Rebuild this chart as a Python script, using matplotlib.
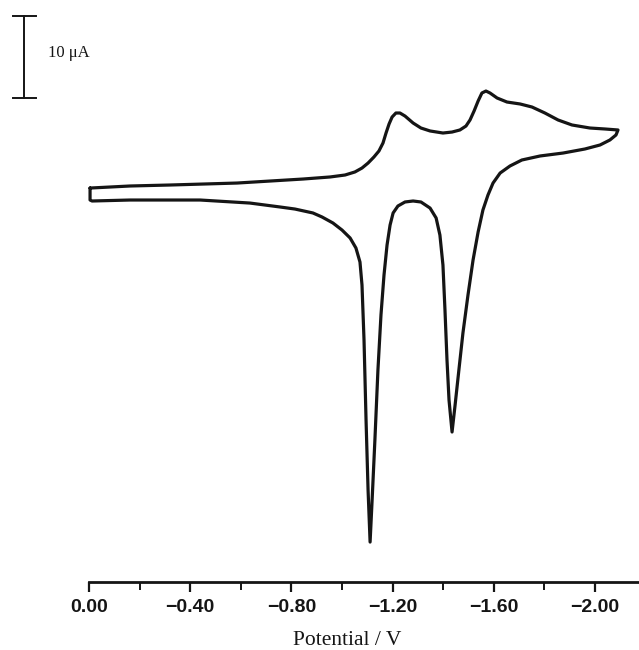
import matplotlib

matplotlib.use("Agg")

import matplotlib.pyplot as plt
from matplotlib.ticker import FixedLocator, FixedFormatter

INK = "#151515"

# forward scan 0 -> -2.09 V (reduction peaks plotted up), current in uA
forward_potential = [
    -0.004, -0.162, -0.320, -0.585, -0.846, -0.953, -1.012, -1.051, -1.079, -1.103,
    -1.126, -1.146, -1.162, -1.174, -1.186, -1.198, -1.213, -1.229, -1.249, -1.281,
    -1.312, -1.348, -1.399, -1.435, -1.466, -1.490, -1.506, -1.522, -1.538, -1.553,
    -1.569, -1.585, -1.613, -1.652, -1.704, -1.751, -1.802, -1.854, -1.909, -1.980,
    -2.040, -2.091,
]
forward_current = [
    0.24, 0.49, 0.61, 0.85, 1.34, 1.59, 1.83, 2.20, 2.68, 3.29,
    4.02, 4.76, 5.73, 6.95, 8.05, 8.90, 9.39, 9.39, 9.02, 8.17,
    7.56, 7.20, 6.95, 7.07, 7.32, 7.80, 8.54, 9.63, 10.85, 11.83,
    12.07, 11.83, 11.22, 10.73, 10.49, 10.12, 9.39, 8.54, 7.93, 7.56,
    7.44, 7.32,
]

# reverse scan back to 0 V with the two stripping peaks
reverse_potential = [
    -2.083, -2.059, -2.020, -1.960, -1.874, -1.783, -1.711, -1.664, -1.625, -1.597,
    -1.577, -1.557, -1.538, -1.518, -1.498, -1.478, -1.462, -1.447, -1.435, -1.423,
    -1.415, -1.407, -1.399, -1.387, -1.372, -1.348, -1.312, -1.281, -1.249, -1.221,
    -1.202, -1.190, -1.178, -1.166, -1.154, -1.142, -1.130, -1.119, -1.111, -1.103,
    -1.095, -1.087, -1.079, -1.071, -1.055, -1.032, -1.000, -0.964, -0.921, -0.885,
    -0.814, -0.755, -0.636, -0.439, -0.162, -0.012, -0.004, -0.004,
]
reverse_current = [
    6.71, 6.10, 5.49, 5.00, 4.51, 4.15, 3.66, 2.93, 2.07, 0.85,
    -0.61, -2.44, -5.12, -8.54, -12.80, -17.44, -21.95, -26.22, -29.51, -25.61,
    -20.73, -14.63, -9.15, -5.49, -3.41, -2.20, -1.46, -1.34, -1.46, -1.95,
    -2.80, -4.27, -6.71, -10.37, -15.24, -21.95, -30.49, -37.80, -42.93, -36.59,
    -28.05, -18.29, -11.59, -8.78, -7.07, -5.85, -4.88, -4.02, -3.29, -2.80,
    -2.32, -2.07, -1.59, -1.22, -1.22, -1.34, -1.22, 0.24,
]

tick_values = [0.0, -0.4, -0.8, -1.2, -1.6, -2.0]
tick_labels = ["0.00", "\u22120.40", "\u22120.80", "\u22121.20", "\u22121.60", "\u22122.00"]
minor_tick_values = [-0.2, -0.6, -1.0, -1.4, -1.8]

scale_bar_ua = 10.0
scale_bar_top = 21.22
scale_bar_x = 0.257

x_left, x_right = 0.352, -2.174
y_bottom, y_top = -47.80, 23.17

fig = plt.figure(figsize=(6.39, 6.5), dpi=100)
ax = fig.add_axes([0.0, 0.1046, 1.0, 0.8954])

ax.plot(forward_potential + reverse_potential, forward_current + reverse_current,
        color=INK, linewidth=2.3, solid_joinstyle="round", solid_capstyle="round")

# 10 uA scale bar
y0 = scale_bar_top - scale_bar_ua
ax.plot([scale_bar_x, scale_bar_x], [y0, scale_bar_top], color=INK, linewidth=1.4)
for yy in (y0, scale_bar_top):
    ax.plot([scale_bar_x + 0.043, scale_bar_x - 0.048], [yy, yy], color=INK, linewidth=1.4)
ax.text(0.162, scale_bar_top - scale_bar_ua / 2 + 0.5, "10 \u03bcA", ha="left", va="center",
        fontsize=12, family=["Liberation Serif", "DejaVu Serif"], color=INK)

ax.set_xlim(x_left, x_right)
ax.set_ylim(y_bottom, y_top)

for side in ("top", "right", "left"):
    ax.spines[side].set_visible(False)
ax.spines["bottom"].set_bounds(0.0, x_right)
ax.spines["bottom"].set_linewidth(2.0)
ax.spines["bottom"].set_color(INK)
ax.set_yticks([])

ax.xaxis.set_major_locator(FixedLocator(tick_values))
ax.xaxis.set_major_formatter(FixedFormatter(tick_labels))
ax.xaxis.set_minor_locator(FixedLocator(minor_tick_values))
ax.tick_params(axis="x", which="major", direction="out", length=7, width=1.6, color=INK,
               pad=5, labelsize=14, labelcolor=INK)
ax.tick_params(axis="x", which="minor", direction="out", length=6, width=1.4, color=INK)
for lab in ax.get_xticklabels():
    lab.set_fontfamily(["Liberation Sans", "DejaVu Sans"])
    lab.set_fontweight("bold")

ax.set_xlabel("Potential / V", fontsize=15.5, family=["Liberation Serif", "DejaVu Serif"],
              color=INK)
ax.xaxis.set_label_coords(-1.02, -0.10, transform=ax.get_xaxis_transform())
ax.xaxis.label.set_va("center")

fig.savefig("out.png", dpi=100)
